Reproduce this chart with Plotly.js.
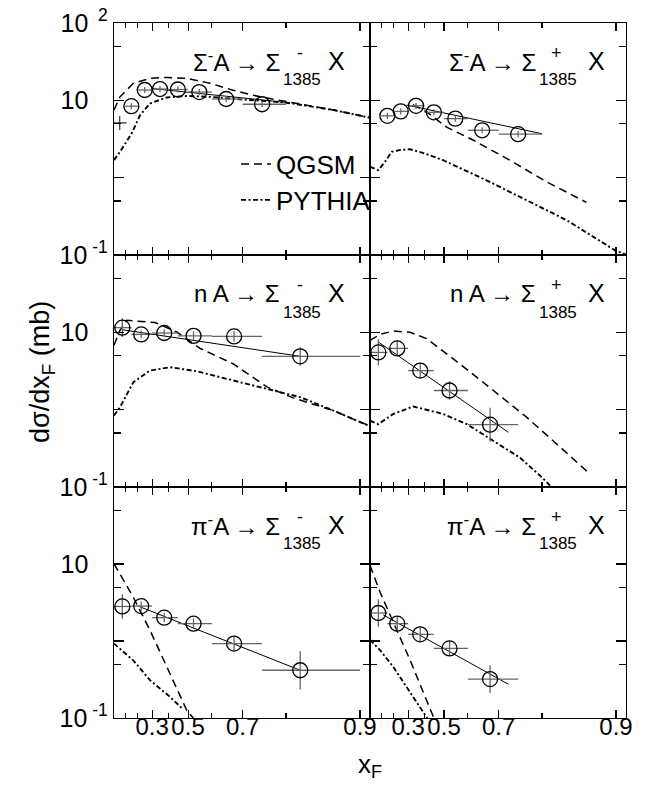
<!DOCTYPE html>
<html><head><meta charset="utf-8">
<script src="https://cdn.plot.ly/plotly-3.0.1.min.js"></script>
<style>html,body{margin:0;padding:0;background:#fff}</style>
</head><body>
<div id="chart" style="width:647px;height:786px"></div>
<script>
// ---------- tick definitions ----------
const xTickVals = [0.3, 0.5, 0.7, 0.9];
const xTickText = ['0.3', '0.5', '0.7', '0.9'];
const xMinorVals = [0.1, 0.2, 0.4, 0.6, 0.8];
const yTickVals = [0.1, 1, 10, 100];
const yTickTextTop = ['10<sup>\u00a0-1</sup>', '', '10<sup>\u00a0\u00a0\u00a0\u00a0</sup>', '10<sup>\u00a0\u00a02</sup>'];
const yTickTextOther = ['10<sup>\u00a0-1</sup>', '', '10<sup>\u00a0\u00a0\u00a0\u00a0</sup>', ''];
const yMinorVals = [0.5, 5, 50];

// ---------- Σ⁻A → Σ⁻(1385) X ----------
const tlDataX = [0.15, 0.25, 0.35, 0.45, 0.55, 0.65, 0.75];
const tlDataY = [8.4, 13.6, 14.0, 13.8, 12.8, 10.4, 8.9];
const tlDataXerr = [0.05, 0.05, 0.05, 0.05, 0.05, 0.05, 0.05];
const tlDataYdex = [0.04, 0.04, 0.04, 0.04, 0.04, 0.04, 0.04];
const tlFitX = [0.3, 0.8];
const tlFitY = [14.2, 9.4];
const tlQgsmX = [0, 0.054, 0.165, 0.286, 0.389, 0.494, 0.593, 0.672, 0.745, 0.80, 0.872, 0.908];
const tlQgsmY = [7.5, 11.1, 16.6, 19.2, 19.8, 19.2, 16.6, 13.5, 11.1, 9.6, 7.5, 6.0];
const tlPythiaX = [0, 0.054, 0.152, 0.216, 0.286, 0.389, 0.494, 0.593, 0.692, 0.798, 0.872, 0.908];
const tlPythiaY = [1.68, 2.15, 3.72, 6.4, 9.1, 10.9, 11.4, 11.1, 10.3, 9.4, 7.5, 6.0];
const tlCrossX = [0.052];
const tlCrossY = [5.1];

// ---------- Σ⁻A → Σ⁺(1385) X ----------
const trDataX = [0.15, 0.25, 0.35, 0.45, 0.55, 0.65, 0.75];
const trDataY = [6.3, 7.2, 8.5, 7.0, 5.8, 4.1, 3.65];
const trDataXerr = [0.05, 0.05, 0.05, 0.05, 0.05, 0.05, 0.05];
const trDataYdex = [0.04, 0.04, 0.04, 0.04, 0.04, 0.04, 0.04];
const trFitX = [0.29, 0.8];
const trFitY = [8.7, 3.7];
const trQgsmX = [0.33, 0.411, 0.512, 0.62, 0.73, 0.809, 0.868];
const trQgsmY = [8.8, 7.1, 4.5, 3.05, 1.68, 0.88, 0.48];
const trPythiaX = [0, 0.075, 0.13, 0.184, 0.245, 0.312, 0.4, 0.496, 0.664, 0.769, 0.842, 0.899, 0.91];
const trPythiaY = [1.38, 1.25, 1.6, 2.16, 2.28, 2.33, 2.06, 1.68, 0.925, 0.51, 0.28, 0.115, 0.1];

// ---------- n A → Σ⁻(1385) X ----------
const mlDataX = [0.075, 0.225, 0.375, 0.525, 0.675, 0.825];
const mlDataY = [11.5, 9.4, 9.8, 9.0, 8.85, 4.9];
const mlDataXerr = [0.075, 0.075, 0.075, 0.075, 0.075, 0.075];
const mlDataYdex = [0.12, 0.05, 0.05, 0.06, 0.07, 0.12];
const mlFitX = [0.075, 0.825];
const mlFitY = [10.8, 4.9];
const mlQgsmX = [0, 0.054, 0.113, 0.191, 0.319, 0.444, 0.553, 0.673, 0.761, 0.813, 0.872, 0.908];
const mlQgsmY = [6.8, 10.6, 14.3, 14.0, 13.4, 10.1, 6.2, 3.9, 1.97, 1.42, 0.97, 0.62];
const mlPythiaX = [0, 0.054, 0.165, 0.286, 0.408, 0.539, 0.673, 0.761, 0.825, 0.872, 0.908];
const mlPythiaY = [0.84, 1.07, 2.26, 3.2, 3.54, 3.14, 2.38, 1.86, 1.45, 0.97, 0.62];

// ---------- n A → Σ⁺(1385) X ----------
const mrDataX = [0.075, 0.225, 0.375, 0.525, 0.675];
const mrDataY = [5.5, 6.2, 3.2, 1.77, 0.64];
const mrDataXerr = [0.075, 0.075, 0.075, 0.075, 0.075];
const mrDataYdex = [0.17, 0.1, 0.1, 0.12, 0.22];
const mrFitX = [0.075, 0.726];
const mrFitY = [7.5, 0.51];
const mrQgsmX = [0, 0.09, 0.196, 0.312, 0.411, 0.569, 0.685, 0.769, 0.831, 0.870];
const mrQgsmY = [7.85, 9.4, 10.4, 10.0, 8.3, 3.9, 1.77, 0.8, 0.33, 0.155];
const mrPythiaX = [0, 0.075, 0.196, 0.333, 0.496, 0.596, 0.675, 0.754, 0.8, 0.817, 0.83];
const mrPythiaY = [0.72, 0.65, 0.88, 1.1, 0.88, 0.65, 0.42, 0.24, 0.133, 0.1, 0.085];

// ---------- π⁻A → Σ⁻(1385) X ----------
const blDataX = [0.075, 0.225, 0.375, 0.525, 0.675, 0.825];
const blDataY = [2.81, 2.84, 2.01, 1.68, 0.925, 0.417];
const blDataXerr = [0.075, 0.075, 0.075, 0.075, 0.075, 0.075];
const blDataYdex = [0.16, 0.06, 0.06, 0.07, 0.09, 0.25];
const blFitX = [0.2, 0.825];
const blFitY = [2.85, 0.417];
const blQgsmX = [0, 0.165, 0.286, 0.389, 0.494, 0.53];
const blQgsmY = [10.1, 3.7, 1.38, 0.46, 0.126, 0.095];
const blPythiaX = [0, 0.165, 0.286, 0.408, 0.469];
const blPythiaY = [0.925, 0.56, 0.31, 0.188, 0.135];

// ---------- π⁻A → Σ⁺(1385) X ----------
const brDataX = [0.075, 0.225, 0.375, 0.525, 0.675];
const brDataY = [2.31, 1.68, 1.22, 0.8, 0.32];
const brDataXerr = [0.075, 0.075, 0.075, 0.075, 0.075];
const brDataYdex = [0.18, 0.1, 0.09, 0.1, 0.18];
const brFitX = [0.117, 0.726];
const brFitY = [2.18, 0.275];
const brQgsmX = [0, 0.09, 0.196, 0.312, 0.411, 0.45];
const brQgsmY = [9.6, 4.3, 1.75, 0.57, 0.17, 0.1];
const brPythiaX = [0, 0.09, 0.196, 0.312, 0.403, 0.42];
const brPythiaY = [1.04, 0.76, 0.46, 0.22, 0.11, 0.095];

// ---------- panel labels ----------
const reactions = ['Σ<sup>-</sup>A → Σ', 'Σ<sup>-</sup>A → Σ', 'n A → Σ', 'n A → Σ', 'π<sup>-</sup>A → Σ', 'π<sup>-</sup>A → Σ'];
const charges = ['-', '+', '-', '+', '-', '+'];
const massLabel = '1385';
const legendNames = ['QGSM', 'PYTHIA'];

// ---------- construction ----------
const FONT = 'Liberation Sans, Arial, Helvetica, sans-serif';
const W = 647, H = 786;
const colPx = [[114, 370], [370, 626]];
const rowPx = [[23, 255], [255, 487], [487, 718]];
const xRange = [0, -256 / 246];

const panels = [
  {d: [tlDataX, tlDataY, tlDataXerr, tlDataYdex], f: [tlFitX, tlFitY], q: [tlQgsmX, tlQgsmY], p: [tlPythiaX, tlPythiaY]},
  {d: [trDataX, trDataY, trDataXerr, trDataYdex], f: [trFitX, trFitY], q: [trQgsmX, trQgsmY], p: [trPythiaX, trPythiaY]},
  {d: [mlDataX, mlDataY, mlDataXerr, mlDataYdex], f: [mlFitX, mlFitY], q: [mlQgsmX, mlQgsmY], p: [mlPythiaX, mlPythiaY]},
  {d: [mrDataX, mrDataY, mrDataXerr, mrDataYdex], f: [mrFitX, mrFitY], q: [mrQgsmX, mrQgsmY], p: [mrPythiaX, mrPythiaY]},
  {d: [blDataX, blDataY, blDataXerr, blDataYdex], f: [blFitX, blFitY], q: [blQgsmX, blQgsmY], p: [blPythiaX, blPythiaY]},
  {d: [brDataX, brDataY, brDataXerr, brDataYdex], f: [brFitX, brFitY], q: [brQgsmX, brQgsmY], p: [brPythiaX, brPythiaY]}
];

const om = a => a.map(v => 1 - v); // axis variable is 1 - xF (log, reversed)

const traces = [];
const legendFont = {family: FONT, size: 26, color: '#000'};
const layout = {
  width: W, height: H, autosize: false,
  margin: {l: 0, r: 0, t: 0, b: 0},
  paper_bgcolor: '#fff', plot_bgcolor: 'rgba(0,0,0,0)',
  font: {family: FONT, color: '#000', size: 20},
  showlegend: true,
  hovermode: false,
  annotations: [],
  legend: {x: 236 / W, y: 1 - 164 / H, xanchor: 'left', yanchor: 'middle', bgcolor: 'rgba(0,0,0,0)',
           font: legendFont, itemwidth: 30, borderwidth: 0},
  legend2: {x: 236 / W, y: 1 - 200 / H, xanchor: 'left', yanchor: 'middle', bgcolor: 'rgba(0,0,0,0)',
            font: legendFont, itemwidth: 30, borderwidth: 0}
};

panels.forEach((P, i) => {
  const n = i + 1;
  const xa = n === 1 ? 'x' : 'x' + n;
  const ya = n === 1 ? 'y' : 'y' + n;
  const col = i % 2, row = Math.floor(i / 2);
  const [xs, ys, xe, yd] = P.d;

  traces.push({
    x: om(P.q[0]), y: P.q[1], xaxis: xa, yaxis: ya, mode: 'lines', name: legendNames[0],
    line: {color: '#000', width: 1.5, dash: '8px,5px'},
    showlegend: i === 0, legend: 'legend'
  });
  traces.push({
    x: om(P.p[0]), y: P.p[1], xaxis: xa, yaxis: ya, mode: 'lines', name: legendNames[1],
    line: {color: '#000', width: 1.9, dash: '5px,2.5px,2px,2.5px'},
    showlegend: i === 0, legend: 'legend2'
  });
  traces.push({
    x: om(P.f[0]), y: P.f[1], xaxis: xa, yaxis: ya, mode: 'lines',
    line: {color: '#000', width: 1}, showlegend: false
  });
  traces.push({
    x: om(xs), y: ys, xaxis: xa, yaxis: ya, mode: 'markers', showlegend: false,
    marker: {symbol: 'circle-open', size: 15, color: '#000', line: {width: 1.3, color: '#000'}},
    error_x: {type: 'data', symmetric: false,
              array: xs.map((v, k) => (1 - v) - (1 - v - xe[k])),
              arrayminus: xs.map((v, k) => (1 - v + xe[k]) - (1 - v)),
              color: '#666', thickness: 1.3, width: 0},
    error_y: {type: 'data', symmetric: false,
              array: ys.map((v, k) => v * (Math.pow(10, yd[k]) - 1)),
              arrayminus: ys.map((v, k) => v * (1 - Math.pow(10, -yd[k]))),
              color: '#666', thickness: 1.3, width: 0}
  });
  if (i === 0) {
    traces.push({
      x: om(tlCrossX), y: tlCrossY, xaxis: xa, yaxis: ya, mode: 'markers', showlegend: false,
      marker: {symbol: 'cross-thin-open', size: 10, color: '#333', line: {width: 1.2, color: '#333'}}
    });
  }

  const xKey = n === 1 ? 'xaxis' : 'xaxis' + n;
  const yKey = n === 1 ? 'yaxis' : 'yaxis' + n;
  layout[xKey] = {
    type: 'log', range: xRange, domain: [colPx[col][0] / W, colPx[col][1] / W], anchor: ya,
    tickmode: 'array', tickvals: om(xTickVals), ticktext: xTickText,
    showticklabels: row === 2, ticklabelstandoff: -13,
    ticks: 'inside', ticklen: 8, tickwidth: 1.1, tickcolor: '#000',
    minor: {tickmode: 'array', tickvals: om(xMinorVals), ticks: 'inside', ticklen: 5, tickwidth: 1.1, tickcolor: '#000', showgrid: false},
    showline: true, linewidth: 1.2, linecolor: '#000', mirror: 'ticks',
    showgrid: false, zeroline: false,
    tickfont: {family: FONT, size: 24, color: '#000'}
  };
  layout[yKey] = {
    type: 'log', range: [-1, 2],
    domain: [1 - rowPx[row][1] / H, 1 - rowPx[row][0] / H], anchor: xa,
    tickmode: 'array', tickvals: yTickVals, ticktext: row === 0 ? yTickTextTop : yTickTextOther,
    showticklabels: col === 0,
    ticks: 'inside', ticklen: 10, tickwidth: 1.1, tickcolor: '#000',
    minor: {tickmode: 'array', tickvals: yMinorVals, ticks: 'inside', ticklen: 7, tickwidth: 1.1, tickcolor: '#000', showgrid: false},
    showline: true, linewidth: 1.2, linecolor: '#000', mirror: 'ticks',
    showgrid: false, zeroline: false,
    tickfont: {family: FONT, size: 25, color: '#000'}
  };

  const xr = xa + ' domain', yr = ya + ' domain';
  const pw = 256, ph = 232;
  layout.annotations.push({xref: xr, yref: yr, x: 168 / pw, y: 1 - 38 / ph, xanchor: 'right', yanchor: 'middle',
    text: reactions[i], showarrow: false, font: {family: FONT, size: 24, color: '#000'}});
  layout.annotations.push({xref: xr, yref: yr, x: 186 / pw, y: 1 - 30 / ph, xanchor: 'center', yanchor: 'middle',
    text: charges[i], showarrow: false, font: {family: FONT, size: 18, color: '#000'}});
  layout.annotations.push({xref: xr, yref: yr, x: 188 / pw, y: 1 - 57 / ph, xanchor: 'center', yanchor: 'middle',
    text: massLabel, showarrow: false, font: {family: FONT, size: 17, color: '#000'}});
  layout.annotations.push({xref: xr, yref: yr, x: (col === 0 ? 212 : 216) / pw, y: 1 - 38 / ph, xanchor: 'left', yanchor: 'middle',
    text: 'X', showarrow: false, font: {family: FONT, size: 25, color: '#000'}});
});

layout.annotations.push({xref: 'paper', yref: 'paper', x: 42 / W, y: 1 - 372 / H, xanchor: 'center', yanchor: 'middle',
  text: 'dσ/dx<sub>F</sub> (mb)', textangle: -90, showarrow: false, font: {family: FONT, size: 27, color: '#000'}});
layout.annotations.push({xref: 'paper', yref: 'paper', x: 370 / W, y: 1 - 765 / H, xanchor: 'center', yanchor: 'middle',
  text: 'x<sub>F</sub>', showarrow: false, font: {family: FONT, size: 26, color: '#000'}});

Plotly.newPlot('chart', traces, layout, {staticPlot: true, displayModeBar: false});
</script>
</body></html>
